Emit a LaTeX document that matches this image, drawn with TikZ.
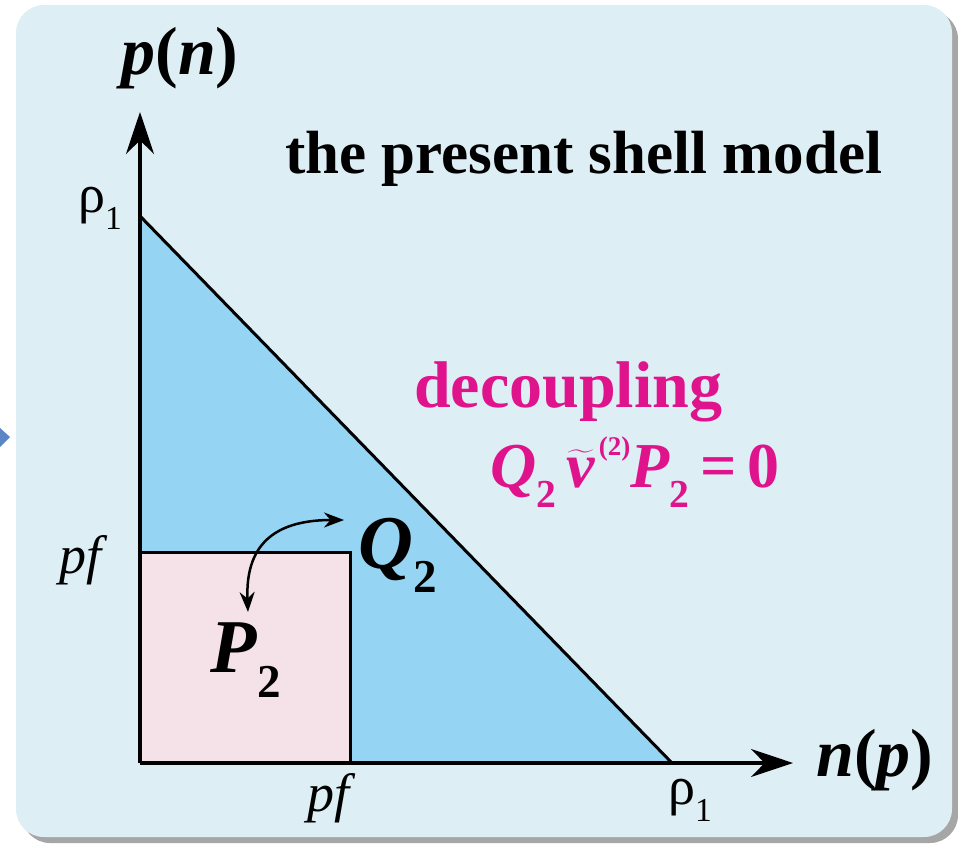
\documentclass[tikz,border=0pt]{standalone}
\usepackage{amsmath}
\usepackage{fontspec}
\setmainfont{Liberation Serif}[
    BoldFont={Liberation Serif Bold},
    ItalicFont={Liberation Serif Italic},
    BoldItalicFont={Liberation Serif Bold Italic}]
\usetikzlibrary{arrows.meta, positioning}

\definecolor{panelbg}{HTML}{DEEEF5}
\definecolor{shellblue}{HTML}{96D4F3}
\definecolor{pspace}{HTML}{F4E2E8}
\definecolor{magentatext}{HTML}{DF148C}
\definecolor{sidearrow}{HTML}{5B86C6}

\newcommand{\bi}[1]{\textbf{\textit{#1}}}
\newcommand{\lowidx}[1]{\raisebox{-0.32em}{\fontsize{0.62em}{0.7em}\selectfont\textbf{#1}}}

\begin{document}
\begin{tikzpicture}[
        x=1pt, y=-1pt,
        >=Stealth,
        axis/.style={line width=3.5pt, -{Stealth[length=42pt, width=28pt]}},
        edge/.style={line width=3pt, line join=miter},
        label/.style={inner sep=0pt, font=\fontsize{54}{58}\selectfont},
        axislabel/.style={inner sep=0pt, font=\fontsize{68}{72}\selectfont},
        spacelabel/.style={inner sep=0pt, font=\fontsize{76}{80}\selectfont}
    ]
    \useasboundingbox (0,0) rectangle (958,843);
    % panel
    \fill[gray!70, rounded corners=28pt] (22,11) rectangle (958,843);
    \fill[panelbg, rounded corners=28pt] (16,5) rectangle (952,837);
    \fill[sidearrow] (0,428) -- (10,437) -- (0,447) -- cycle;

    \coordinate (o) at (140,763);
    \coordinate (ytop) at (140,216);
    \coordinate (xend) at (672,763);
    \coordinate (pfy) at (140,552);
    \coordinate (pfx) at (350,763);
    \coordinate (pfc) at (350,552);

    % regions
    \fill[shellblue] (ytop) -- (xend) -- (o) -- cycle;
    \fill[pspace] (o) rectangle (pfc);
    \draw[edge] (ytop) -- (xend);
    \draw[edge] (pfy) -- (pfc) -- (pfx);

    % axes
    \draw[axis] (o) -- (140,112) coordinate (yarr);
    \draw[axis] (o) -- (793,763) coordinate (xarr);

    \node[axislabel] (ylab) at (180,58) {\bi{p}\textbf{(}\bi{n}\textbf{)}};
    \node[axislabel, anchor=west] (xlab) at (816,760) {\bi{n}\textbf{(}\bi{p}\textbf{)}};

    \node[label] (rhoy) at (100,208) {ρ\lowidx{\textmd{1}}};
    \node[label] (rhox) at (690,800) {ρ\lowidx{\textmd{1}}};
    \node[label] (pfylab) at (84,560) {\textit{pf}};
    \node[label] (pfxlab) at (332,798) {\textit{pf}};

    \node[inner sep=0pt, anchor=base west, font=\fontsize{61}{66}\selectfont\bfseries] (title) at (285,173) {the present shell model};

    \node[inner sep=0pt, anchor=base west, text=magentatext, font=\fontsize{66}{70}\selectfont\bfseries] (dec) at (414,407) {decoupling};
    \node[inner sep=0pt, anchor=base west, text=magentatext, font=\fontsize{64}{68}\selectfont\bfseries] (eq) at (490,487)
        {\textit{Q}\lowidx{2}\,$\widetilde{\mbox{\textit{v}}}$\kern3pt\raisebox{0.5em}{\fontsize{27}{29}\selectfont (2)}\textit{P}\lowidx{2}\,=\,0};

    \node[spacelabel] (qtwo) at (398,555) {\bi{Q}\lowidx{2}};
    \node[spacelabel] (ptwo) at (246,660) {\bi{P}\lowidx{2}};

    % exchange arrow
    \coordinate (qend) at (344,520);
    \coordinate (pend) at (248,612);
    \draw[line width=2.5pt, {Stealth[length=20pt, width=15pt]}-{Stealth[length=20pt, width=15pt]}]
        (pend) .. controls (245,540) and (280,520) .. (qend);
\end{tikzpicture}
\end{document}
